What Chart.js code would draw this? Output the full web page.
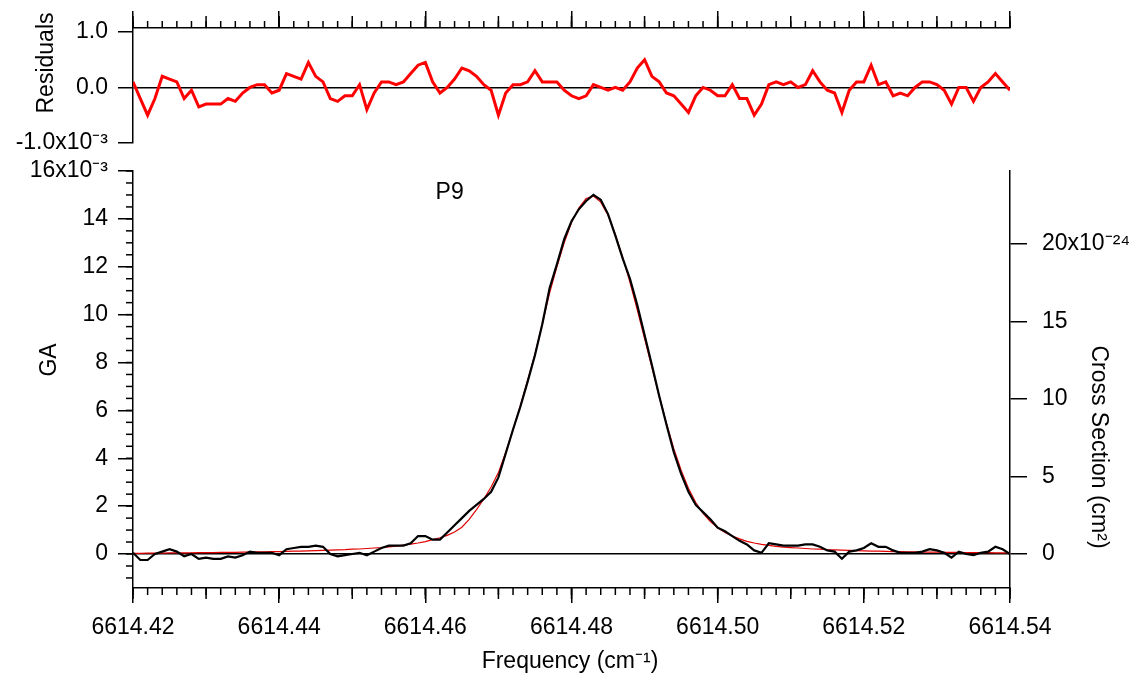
<!DOCTYPE html>
<html>
<head>
<meta charset="utf-8">
<title>P9 line fit</title>
<script src="https://cdn.jsdelivr.net/npm/chart.js@4.4.0/dist/chart.umd.min.js"></script>
<style>
    html, body { margin: 0; padding: 0; background: #fff; }
    #wrap { position: relative; width: 1142px; height: 682px; }
    #wrap canvas { position: absolute; left: 0; top: 0; }
</style>
</head>
<body>
<div id="wrap">
    <canvas id="mainChart" width="1142" height="682"></canvas>
    <canvas id="resChart" width="1142" height="682"></canvas>
</div>
<script>
// Frequency grid (cm-1)
const freq = [
    6614.420, 6614.421, 6614.422, 6614.423, 6614.424, 6614.425, 6614.426, 6614.427, 6614.428, 6614.429,
    6614.430, 6614.431, 6614.432, 6614.433, 6614.434, 6614.435, 6614.436, 6614.437, 6614.438, 6614.439,
    6614.440, 6614.441, 6614.442, 6614.443, 6614.444, 6614.445, 6614.446, 6614.447, 6614.448, 6614.449,
    6614.450, 6614.451, 6614.452, 6614.453, 6614.454, 6614.455, 6614.456, 6614.457, 6614.458, 6614.459,
    6614.460, 6614.461, 6614.462, 6614.463, 6614.464, 6614.465, 6614.466, 6614.467, 6614.468, 6614.469,
    6614.470, 6614.471, 6614.472, 6614.473, 6614.474, 6614.475, 6614.476, 6614.477, 6614.478, 6614.479,
    6614.480, 6614.481, 6614.482, 6614.483, 6614.484, 6614.485, 6614.486, 6614.487, 6614.488, 6614.489,
    6614.490, 6614.491, 6614.492, 6614.493, 6614.494, 6614.495, 6614.496, 6614.497, 6614.498, 6614.499,
    6614.500, 6614.501, 6614.502, 6614.503, 6614.504, 6614.505, 6614.506, 6614.507, 6614.508, 6614.509,
    6614.510, 6614.511, 6614.512, 6614.513, 6614.514, 6614.515, 6614.516, 6614.517, 6614.518, 6614.519,
    6614.520, 6614.521, 6614.522, 6614.523, 6614.524, 6614.525, 6614.526, 6614.527, 6614.528, 6614.529,
    6614.530, 6614.531, 6614.532, 6614.533, 6614.534, 6614.535, 6614.536, 6614.537, 6614.538, 6614.539,
    6614.540
];

// Residuals (x10^-3)
const residual = [
    0.1, -0.2, -0.5, -0.2, 0.2, 0.15, 0.1, -0.2, -0.05, -0.35,
    -0.3, -0.3, -0.3, -0.2, -0.25, -0.1, 0.0, 0.05, 0.05, -0.1,
    -0.05, 0.25, 0.2, 0.15, 0.45, 0.2, 0.1, -0.2, -0.25, -0.15,
    -0.15, 0.05, -0.4, -0.1, 0.1, 0.1, 0.05, 0.1, 0.25, 0.4,
    0.45, 0.1, -0.1, 0.0, 0.15, 0.35, 0.3, 0.2, 0.05, -0.05,
    -0.5, -0.1, 0.05, 0.05, 0.1, 0.3, 0.1, 0.1, 0.1, -0.05,
    -0.15, -0.2, -0.15, 0.05, 0.0, -0.05, 0.0, -0.05, 0.1, 0.35,
    0.5, 0.2, 0.1, -0.1, -0.15, -0.3, -0.45, -0.15, 0.0, -0.05,
    -0.15, -0.15, 0.05, -0.2, -0.2, -0.5, -0.3, 0.05, 0.1, 0.05,
    0.1, 0.0, 0.05, 0.3, 0.1, -0.05, -0.1, -0.45, -0.05, 0.1,
    0.1, 0.4, 0.05, 0.1, -0.15, -0.1, -0.15, 0.0, 0.1, 0.1,
    0.05, -0.05, -0.3, 0.0, 0.0, -0.25, 0.0, 0.1, 0.25, 0.1,
    -0.05
];

// Measured absorption GA (x10^-3)
const measured = [
    0.05, -0.25, -0.25, 0.0, 0.1, 0.2, 0.1, -0.1, 0.0, -0.2,
    -0.15, -0.2, -0.2, -0.1, -0.15, -0.05, 0.1, 0.05, 0.05, 0.05,
    -0.05, 0.2, 0.25, 0.3, 0.3, 0.35, 0.3, 0.0, -0.1, -0.05,
    0.0, 0.05, -0.05, 0.1, 0.25, 0.35, 0.35, 0.35, 0.45, 0.75,
    0.75, 0.6, 0.6, 0.9, 1.2, 1.5, 1.8, 2.05, 2.3, 2.6,
    3.2, 4.2, 5.2, 6.15, 7.2, 8.3, 9.6, 11.1, 12.1, 13.15,
    13.9, 14.4, 14.75, 15.0, 14.8, 14.2, 13.3, 12.35, 11.5, 10.4,
    9.15, 7.9, 6.6, 5.4, 4.25, 3.35, 2.6, 2.05, 1.75, 1.45,
    1.1, 0.95, 0.75, 0.55, 0.4, 0.15, 0.05, 0.45, 0.4, 0.35,
    0.35, 0.35, 0.4, 0.4, 0.3, 0.15, 0.1, -0.2, 0.1, 0.15,
    0.25, 0.45, 0.3, 0.3, 0.15, 0.05, 0.05, 0.05, 0.1, 0.2,
    0.15, 0.05, -0.15, 0.1, 0.0, -0.05, 0.05, 0.1, 0.3, 0.2,
    0.0
];

// Line profile fit GA (x10^-3)
const fitted = [
    0.03, 0.03, 0.04, 0.04, 0.04, 0.05, 0.05, 0.05, 0.05, 0.06,
    0.06, 0.06, 0.07, 0.07, 0.07, 0.08, 0.08, 0.09, 0.09, 0.1,
    0.1, 0.11, 0.12, 0.12, 0.13, 0.14, 0.15, 0.16, 0.17, 0.18,
    0.2, 0.21, 0.23, 0.25, 0.27, 0.3, 0.33, 0.37, 0.41, 0.46,
    0.52, 0.6, 0.68, 0.78, 0.92, 1.12, 1.45, 1.85, 2.3, 2.8,
    3.4, 4.25, 5.2, 6.2, 7.25, 8.35, 9.6, 10.9, 12.0, 13.0,
    13.85, 14.45, 14.85, 14.95, 14.7, 14.15, 13.35, 12.4, 11.35, 10.2,
    9.0, 7.8, 6.6, 5.45, 4.4, 3.5, 2.75, 2.15, 1.7, 1.35,
    1.1, 0.9, 0.75, 0.63, 0.53, 0.46, 0.4, 0.36, 0.32, 0.29,
    0.27, 0.25, 0.23, 0.21, 0.2, 0.18, 0.17, 0.16, 0.15, 0.14,
    0.13, 0.12, 0.12, 0.11, 0.1, 0.1, 0.09, 0.09, 0.08, 0.08,
    0.08, 0.07, 0.07, 0.07, 0.06, 0.06, 0.06, 0.06, 0.05, 0.05,
    0.05
];

// Tick labels
const freqTicks = [6614.42, 6614.44, 6614.46, 6614.48, 6614.50, 6614.52, 6614.54];
const gaTicks = [0, 2, 4, 6, 8, 10, 12, 14, 16];
const resTicks = [-1.0, -0.5, 0.0, 0.5, 1.0];
const csTicks = [0, 5, 10, 15, 20];

const SUP_M3 = '\u207B\u00B3';
const INK = '#000';

Chart.defaults.font.family = '"Liberation Sans", Arial, sans-serif';
Chart.defaults.font.size = 23;
Chart.defaults.color = INK;

// Small and medium tick marks, placed through the scales
function tickPlugin(cfg) {
    return {
        id: 'minorTicks',
        afterDraw(chart) {
            const ctx = chart.ctx;
            ctx.save();
            ctx.strokeStyle = INK;
            ctx.lineWidth = 1.5;
            Object.keys(cfg).forEach(id => {
                const s = chart.scales[id];
                cfg[id].forEach(({ step, len }) => {
                    const k0 = Math.ceil(s.min / step - 1e-6);
                    const k1 = Math.floor(s.max / step + 1e-6);
                    for (let k = k0; k <= k1; k++) {
                        const p = s.getPixelForValue(k * step);
                        ctx.beginPath();
                        if (s.isHorizontal()) {
                            const y0 = s.position === 'top' ? s.bottom : s.top;
                            const dir = s.position === 'top' ? -1 : 1;
                            ctx.moveTo(p, y0);
                            ctx.lineTo(p, y0 + dir * len);
                        } else {
                            const x0 = s.position === 'left' ? s.right : s.left;
                            const dir = s.position === 'left' ? -1 : 1;
                            ctx.moveTo(x0, p);
                            ctx.lineTo(x0 + dir * len, p);
                        }
                        ctx.stroke();
                    }
                });
            });
            ctx.restore();
        }
    };
}

// Axis titles and annotation text
function textPlugin(items) {
    return {
        id: 'labels',
        afterDraw(chart) {
            const ctx = chart.ctx;
            ctx.save();
            ctx.fillStyle = INK;
            ctx.font = '23px "Liberation Sans", Arial, sans-serif';
            items.forEach(it => {
                let x = it.x, y = it.y;
                if (it.xv !== undefined) {
                    x = chart.scales.x.getPixelForValue(it.xv);
                    y = chart.scales.y.getPixelForValue(it.yv);
                }
                ctx.save();
                ctx.translate(x, y);
                ctx.rotate((it.rot || 0) * Math.PI / 180);
                ctx.textAlign = it.align || 'center';
                ctx.textBaseline = 'middle';
                ctx.fillText(it.text, 0, 0);
                ctx.restore();
            });
            ctx.restore();
        }
    };
}

const fixTicks = list => scale => { scale.ticks = list.map(v => ({ value: v })); };
const zeroLine = ctx => (ctx.tick && Math.abs(ctx.tick.value) < 1e-9) ? INK : 'rgba(0,0,0,0)';

const pts = ys => freq.map((f, i) => ({ x: f, y: ys[i] }));

// Main panel: GA and cross section
new Chart(document.getElementById('mainChart'), {
    type: 'line',
    data: {
        datasets: [
            { label: 'Measured', data: pts(measured), borderColor: '#000', borderWidth: 2.2, pointRadius: 0, tension: 0 },
            { label: 'Fit', data: pts(fitted), borderColor: '#e00000', borderWidth: 1.2, pointRadius: 0, tension: 0 }
        ]
    },
    options: {
        responsive: false,
        animation: false,
        layout: { padding: { top: 171, left: 0, right: 0, bottom: 0 } },
        plugins: { legend: { display: false }, tooltip: { enabled: false } },
        scales: {
            x: {
                type: 'linear',
                position: 'bottom',
                min: 6614.42,
                max: 6614.54,
                afterBuildTicks: fixTicks(freqTicks),
                afterFit: s => { s.height = 94; },
                ticks: { padding: 11, maxRotation: 0, autoSkip: false, callback: v => v.toFixed(2) },
                grid: { drawOnChartArea: false, tickLength: 15, tickColor: INK, lineWidth: 1.5 },
                border: { display: true, color: INK, width: 1.5 }
            },
            y: {
                position: 'left',
                min: -1.42,
                max: 16,
                afterBuildTicks: fixTicks(gaTicks),
                afterFit: s => { s.width = 133; },
                ticks: { padding: 10, callback: v => v === 16 ? '16x10' + SUP_M3 : String(v) },
                grid: { color: zeroLine, tickColor: INK, tickLength: 15, lineWidth: 1.5 },
                border: { display: true, color: INK, width: 1.5 }
            },
            y2: {
                position: 'right',
                min: -2.19,
                max: 24.72,
                afterBuildTicks: fixTicks(csTicks),
                afterFit: s => { s.width = 132; },
                ticks: { padding: 15, callback: v => v === 20 ? '20x10\u207B\u00B2\u2074' : String(v) },
                grid: { drawOnChartArea: false, tickColor: INK, tickLength: 17, lineWidth: 1.5 },
                border: { display: true, color: INK, width: 1.5 }
            }
        }
    },
    plugins: [
        tickPlugin({
            x: [{ step: 0.01, len: 11 }, { step: 0.002, len: 7 }],
            y: [{ step: 0.5, len: 7 }]
        }),
        textPlugin([
            { text: 'GA', x: 50, y: 360, rot: -90 },
            { text: 'Cross Section (cm\u00B2)', x: 1098, y: 447, rot: 90 },
            { text: 'Frequency (cm\u207B\u00B9)', x: 570, y: 662 },
            { text: 'P9', xv: 6614.4614, yv: 15.1, align: 'left' }
        ])
    ]
});

// Residual panel
new Chart(document.getElementById('resChart'), {
    type: 'line',
    data: {
        datasets: [
            { label: 'Residuals', data: pts(residual), borderColor: '#ff0000', borderWidth: 3, pointRadius: 0, tension: 0 }
        ]
    },
    options: {
        responsive: false,
        animation: false,
        layout: { padding: { top: 0, left: 0, right: 132, bottom: 539 } },
        plugins: { legend: { display: false }, tooltip: { enabled: false } },
        scales: {
            x: {
                type: 'linear',
                position: 'top',
                min: 6614.42,
                max: 6614.54,
                afterBuildTicks: fixTicks(freqTicks),
                afterFit: s => { s.height = 28; },
                ticks: { display: false },
                grid: { drawOnChartArea: false, tickLength: 17, tickColor: INK, lineWidth: 1.5 },
                border: { display: true, color: INK, width: 1.5 }
            },
            y: {
                position: 'left',
                min: -1.0,
                max: 1.07,
                afterBuildTicks: fixTicks(resTicks),
                afterFit: s => { s.width = 133; },
                ticks: { padding: 10, callback: v => v === -1 ? '-1.0x10' + SUP_M3 : v.toFixed(1) },
                grid: { color: zeroLine, tickColor: INK, tickLength: 15, lineWidth: 1.5 },
                border: { display: true, color: INK, width: 1.5 }
            }
        }
    },
    plugins: [
        tickPlugin({
            x: [{ step: 0.01, len: 12 }, { step: 0.002, len: 7 }]
        }),
        textPlugin([
            { text: 'Residuals', x: 47, y: 63, rot: -90 }
        ])
    ]
});
</script>
</body>
</html>
